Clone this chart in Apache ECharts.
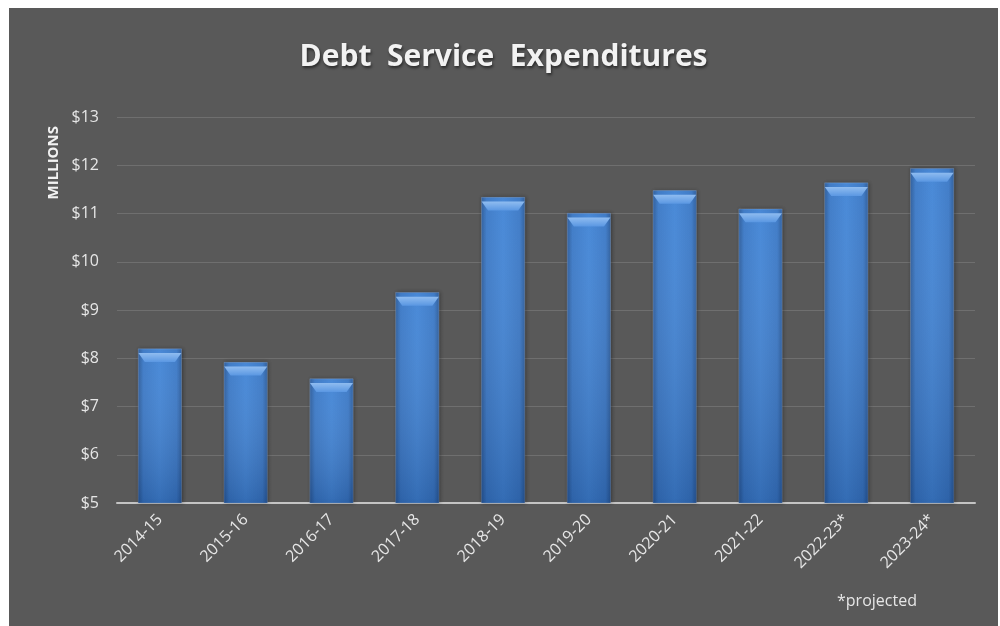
<!DOCTYPE html>
<html>
<head>
<meta charset="utf-8">
<script src="https://cdn.jsdelivr.net/npm/echarts@6/dist/echarts.min.js"></script>
<style>
  html, body { margin: 0; padding: 0; background: #ffffff; }
  #chart { position: absolute; left: 9px; top: 8px; width: 989px; height: 618px; }
</style>
</head>
<body>
<div id="chart"></div>
<script>
// Fiscal years shown on the category axis (* = projected)
const fiscalYears = ['2014-15', '2015-16', '2016-17', '2017-18', '2018-19',
                     '2019-20', '2020-21', '2021-22', '2022-23*', '2023-24*'];
// Debt service expenditures, in millions of dollars
const debtService = [8.2, 7.92, 7.58, 9.37, 11.34, 11.01, 11.48, 11.1, 11.64, 11.94];
// Value axis range and step (millions)
const axisMin = 5;
const axisMax = 13;
const axisStep = 1;

const chart = echarts.init(document.getElementById('chart'));
const labelFont = '"Open Sans", "Noto Sans", sans-serif';

chart.setOption({
  backgroundColor: '#595959',
  animation: false,
  title: {
    text: 'Debt  Service  Expenditures',
    left: 'center',
    top: 29,
    padding: [5, 5, 5, 20],
    textStyle: {
      color: '#f2f2f2',
      fontSize: 30,
      fontWeight: 'bold',
      fontFamily: labelFont,
      textShadowColor: 'rgba(0,0,0,0.55)',
      textShadowBlur: 3,
      textShadowOffsetX: 1,
      textShadowOffsetY: 2
    }
  },
  graphic: [
    {
      type: 'text',
      left: 37,
      top: 118,
      rotation: Math.PI / 2,
      style: {
        text: 'MILLIONS',
        fill: '#f2f2f2',
        font: 'bold 15px ' + labelFont
      }
    },
    {
      type: 'text',
      left: 828,
      top: 585,
      style: {
        text: '*projected',
        fill: '#e6e6e6',
        font: '16px ' + labelFont
      }
    }
  ],
  grid: { left: 108, right: 23, top: 109, bottom: 123 },
  xAxis: {
    type: 'category',
    data: fiscalYears,
    axisTick: { show: false },
    axisLine: { lineStyle: { color: '#c4c4c4', width: 2 } },
    axisLabel: {
      color: '#e6e6e6',
      fontSize: 16,
      fontFamily: labelFont,
      rotate: 45,
      margin: 14,
      interval: 0
    }
  },
  yAxis: {
    type: 'value',
    min: axisMin,
    max: axisMax,
    interval: axisStep,
    axisLine: { show: false },
    axisTick: { show: false },
    splitLine: { lineStyle: { color: '#6f6f6f', width: 1 } },
    axisLabel: {
      color: '#e6e6e6',
      fontSize: 16,
      fontFamily: labelFont,
      margin: 18,
      formatter: v => '$' + v
    }
  },
  series: [
    {
      type: 'bar',
      data: debtService,
      barWidth: '51%',
      itemStyle: {
        color: new echarts.graphic.LinearGradient(0, 0, 1, 0, [
          { offset: 0, color: '#2b5c9c' },
          { offset: 0.12, color: '#3a78c6' },
          { offset: 0.5, color: '#4285d6' },
          { offset: 0.88, color: '#3a78c6' },
          { offset: 1, color: '#2b5c9c' }
        ]),
        borderColor: 'rgba(170,200,240,0.5)',
        borderWidth: 0.5,
        shadowColor: 'rgba(0,0,0,0.35)',
        shadowBlur: 4,
        shadowOffsetX: 1
      }
    },
    {
      // vertical shading overlay on the same bars
      type: 'bar',
      data: debtService,
      barWidth: '51%',
      barGap: '-100%',
      silent: true,
      itemStyle: {
        color: new echarts.graphic.LinearGradient(0, 0, 0, 1, [
          { offset: 0, color: 'rgba(255,255,255,0.04)' },
          { offset: 1, color: 'rgba(0,20,60,0.22)' }
        ])
      }
    },
    {
      // bevelled highlight at the top of each bar
      type: 'pictorialBar',
      data: debtService,
      symbol: 'path://M0,0 L20,0 L17,3 L3,3 Z',
      symbolSize: [43, 9],
      symbolPosition: 'end',
      symbolOffset: [0, '50%'],
      z: 5,
      silent: true,
      itemStyle: {
        color: new echarts.graphic.LinearGradient(0, 0, 0, 1, [
          { offset: 0, color: '#8fbcf0' },
          { offset: 1, color: '#5a97e2' }
        ])
      }
    }
  ]
});
</script>
</body>
</html>
